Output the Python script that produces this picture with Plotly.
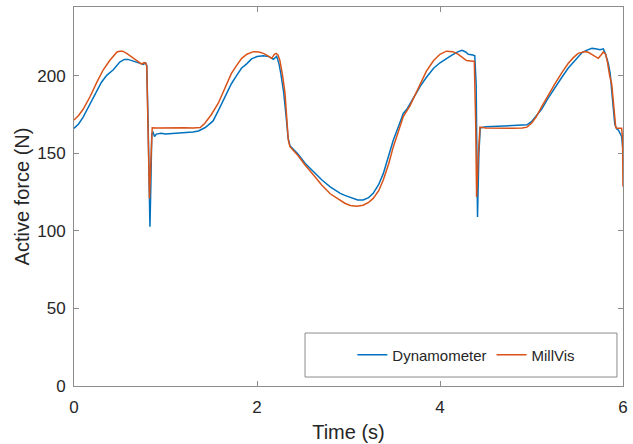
import plotly.graph_objects as go

# Dynamometer (measured) series
t_dyn = [0.00, 0.05, 0.10, 0.14, 0.20, 0.25, 0.30, 0.36, 0.43, 0.50, 0.55, 0.59, 0.64, 0.69, 0.73,
         0.76, 0.78, 0.795, 0.81, 0.83, 0.84, 0.85, 0.865, 0.88, 0.90, 0.95, 1.00, 1.10, 1.20, 1.30,
         1.36, 1.40, 1.43, 1.47, 1.52, 1.58, 1.65, 1.72, 1.78, 1.83, 1.89, 1.94, 2.00, 2.07, 2.13,
         2.18, 2.215, 2.24, 2.26, 2.29, 2.315, 2.34, 2.36, 2.45, 2.525, 2.62, 2.71, 2.80, 2.91, 2.96,
         3.05, 3.10, 3.16, 3.22, 3.27, 3.33, 3.38, 3.44, 3.49, 3.55, 3.60, 3.64, 3.70, 3.78, 3.85,
         3.93, 4.00, 4.07, 4.13, 4.20, 4.24, 4.28, 4.31, 4.36, 4.38, 4.395, 4.41, 4.425, 4.44, 4.50,
         4.60, 4.70, 4.80, 4.90, 4.95, 5.00, 5.05, 5.11, 5.18, 5.26, 5.33, 5.40, 5.47, 5.55, 5.60,
         5.66, 5.70, 5.75, 5.785, 5.81, 5.84, 5.86, 5.885, 5.91, 5.93, 5.95, 5.985, 6.0]
f_dyn = [166.2, 169, 173.5, 178, 185, 191, 196, 200.6, 204, 209, 210.7, 210.7, 209.8, 208.6, 207.7,
         207.5, 208.5, 207, 170, 102.8, 130, 162.5, 163.5, 161, 162.5, 163, 162.5, 163, 163.2, 163.8,
         164.5, 165.5, 166.6, 168.5, 171, 178, 186.5, 195, 200.5, 205, 208, 211, 212.5, 213, 212.5,
         210.7, 212.7, 208, 201.7, 190, 176, 160, 155, 149.5, 143.7, 138, 132.9, 128.5, 124.3, 123,
         121, 120, 120, 121.5, 124.3, 130, 137, 148, 158.7, 168, 176, 178.7, 185, 193, 199,
         205, 208.5, 211.4, 213.5, 215.7, 216.6, 215.5, 214, 213.5, 213, 195, 109, 150, 166.5, 167.2,
         167.5, 167.5, 167.8, 168, 168.5, 170.5, 174, 178.5, 185.5, 193, 199, 205, 210, 215, 216.5,
         217.8, 217.5, 217, 217.5, 214, 208, 201.7, 185, 169, 166, 165, 161, 152]

# MillVis (simulated) series
t_mv = [0.00, 0.05, 0.10, 0.175, 0.25, 0.32, 0.39, 0.44, 0.47, 0.50, 0.53, 0.576, 0.63, 0.685, 0.74,
        0.765, 0.785, 0.795, 0.81, 0.825, 0.84, 0.855, 0.90, 1.00, 1.10, 1.20, 1.30, 1.38, 1.43, 1.50,
        1.577, 1.65, 1.72, 1.78, 1.833, 1.89, 1.96, 2.02, 2.07, 2.12, 2.16, 2.19, 2.21, 2.23, 2.25,
        2.28, 2.306, 2.342, 2.36, 2.45, 2.525, 2.62, 2.707, 2.80, 2.907, 2.96, 3.02, 3.09, 3.16, 3.22,
        3.27, 3.33, 3.38, 3.44, 3.49, 3.55, 3.60, 3.67, 3.72, 3.78, 3.85, 3.93, 4.00, 4.07, 4.14,
        4.20, 4.25, 4.29, 4.36, 4.375, 4.39, 4.40, 4.42, 4.437, 4.50, 4.60, 4.70, 4.80, 4.90, 4.95,
        5.00, 5.05, 5.11, 5.18, 5.257, 5.33, 5.40, 5.46, 5.51, 5.585, 5.62, 5.658, 5.70, 5.73, 5.76,
        5.785, 5.81, 5.83, 5.855, 5.876, 5.90, 5.92, 5.93, 5.985, 5.995, 6.0]
f_mv = [171.6, 174.5, 178.5, 186.6, 196, 204, 210, 213.5, 215.5, 216, 216, 214.6, 212.5, 210, 207.7,
        208.6, 208.3, 206, 165, 121, 145, 166.6, 166.4, 166.6, 166.5, 166.6, 166.5, 166.8, 169.5, 175,
        182.4, 192, 201.7, 207, 211.4, 214, 215.7, 215.5, 214.6, 213, 211.4, 214, 214.6, 213.5, 210,
        200, 188.8, 158.7, 154.4, 148.5, 142.6, 136, 129.7, 124, 120, 117.9, 116.5, 116, 116.6, 118.5,
        121, 126, 132.9, 143.5, 154.4, 166, 174, 180.6, 187, 195, 203, 210, 214, 216, 215.7,
        214, 212, 210, 209.5, 209.5, 170, 122, 150, 167, 166.4, 166.3, 166.3, 166.3, 166.5, 167,
        169.5, 173.5, 180, 187.5, 195, 202, 208, 212, 214.6, 215.7, 215.3, 214, 212.5, 211.4, 213.5,
        215.5, 214, 209, 200, 195, 180, 167, 166.2, 166.2, 160, 128.6]

x_ticks = [0, 2, 4, 6]
y_ticks = [0, 50, 100, 150, 200]

BLUE = "#0072BD"
ORANGE = "#D95319"
TXT = "#262626"
AX = "#8c8c8c"
FONT = "Liberation Sans, Arial, sans-serif"

fig = go.Figure()
fig.add_trace(go.Scatter(x=t_dyn, y=f_dyn, mode="lines", name="Dynamometer",
                         line=dict(color=BLUE, width=1.5)))
fig.add_trace(go.Scatter(x=t_mv, y=f_mv, mode="lines", name="MillVis",
                         line=dict(color=ORANGE, width=1.5)))

axis_common = dict(showgrid=False, zeroline=False, showline=True, linecolor=AX, linewidth=1,
                   mirror="ticks", ticks="inside", ticklen=5, tickcolor=AX, tickwidth=1,
                   tickfont=dict(family=FONT, size=17, color=TXT), automargin=False)

fig.update_xaxes(range=[0, 6], tickvals=x_ticks, ticktext=[str(v) for v in x_ticks],
                 title=dict(text="Time (s)", font=dict(family=FONT, size=20, color=TXT), standoff=8),
                 ticklabelstandoff=6, **axis_common)
fig.update_yaxes(range=[0, 244.5], tickvals=y_ticks, ticktext=[str(v) for v in y_ticks],
                 title=dict(text="Active force (N)", font=dict(family=FONT, size=20, color=TXT), standoff=2),
                 ticklabelstandoff=4, **axis_common)

# legend frame
fig.add_shape(type="rect", xref="paper", yref="paper", x0=0.4208, x1=0.989, y0=0.0237, y1=0.1398,
              line=dict(color=AX, width=1), fillcolor="white", layer="below")

fig.update_layout(
    width=633, height=444,
    margin=dict(l=74, r=10, t=7, b=58),
    paper_bgcolor="white", plot_bgcolor="white",
    font=dict(family=FONT, color=TXT),
    showlegend=True,
    legend=dict(orientation="h", x=0.507, xanchor="left", y=0.082, yanchor="middle",
                bgcolor="rgba(0,0,0,0)", borderwidth=0,
                font=dict(family=FONT, size=15, color=TXT), itemwidth=30,
                tracegroupgap=0),
)

fig.write_html("out.html")
